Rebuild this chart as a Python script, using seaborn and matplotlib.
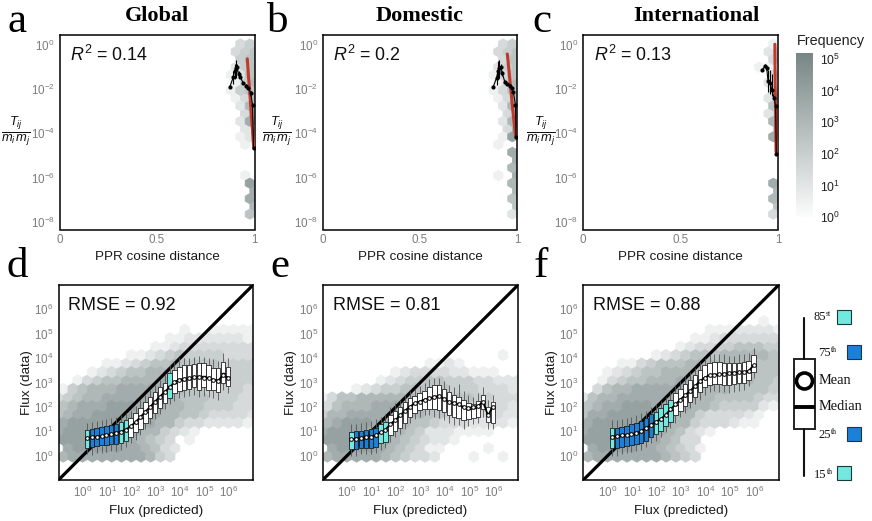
import numpy as np
import pandas as pd
import matplotlib
matplotlib.use("Agg")
import matplotlib.pyplot as plt
from matplotlib.colors import LinearSegmentedColormap, LogNorm
from matplotlib.cm import ScalarMappable
from matplotlib.patches import Rectangle, Circle
import seaborn as sns

# ---------- data (all flux / ratio values are log10) ----------
bin_centres = [0.17,0.37,0.57,0.77,0.97,1.17,1.37,1.57,1.77,1.97,2.17,2.37,2.57,2.77,2.97,
               3.17,3.37,3.57,3.77,3.97,4.17,4.37,4.57,4.77,4.97,5.17,5.37,5.57,5.77,5.97]

d_med = [.74,.76,.78,.80,.83,.87,.92,.96,1.05,1.17,1.35,1.55,1.78,1.98,2.2,2.4,2.6,2.85,3.0,3.1,3.12,3.15,3.2,3.25,3.25,3.2,3.1,3.05,3.4,3.22]
d_q25 = [.32,.36,.40,.42,.44,.46,.46,.50,.62,.78,.95,1.1,1.35,1.55,1.75,1.95,2.15,2.35,2.55,2.65,2.7,2.75,2.8,2.7,2.8,2.7,2.7,2.6,3.0,2.85]
d_q75 = [1.05,1.1,1.13,1.16,1.2,1.25,1.3,1.38,1.45,1.55,1.75,1.95,2.2,2.4,2.6,2.8,3.0,3.4,3.5,3.65,3.7,3.72,3.75,3.8,3.8,3.7,3.6,3.6,3.85,3.65]
d_w15 = [.05,.02,.1,.12,.15,.18,.2,.22,.35,.5,.65,.85,1.1,1.3,1.5,1.7,1.9,2.1,2.25,2.35,2.4,2.45,2.5,2.4,2.45,2.4,2.35,2.3,2.7,2.55]
d_w85 = [1.35,1.4,1.42,1.45,1.5,1.55,1.6,1.68,1.75,1.85,2.05,2.3,2.5,2.7,2.9,3.1,3.35,3.7,3.85,4.0,4.0,4.02,4.05,4.1,4.05,4.0,3.95,3.9,4.2,4.0]
d_mean = [.72,.75,.78,.8,.84,.88,.93,.98,1.07,1.2,1.38,1.58,1.8,2.0,2.22,2.42,2.62,2.8,3.02,3.12,3.15,3.18,3.22,3.22,3.2,3.2,3.12,3.08,3.3,3.2]
d_band = list("cbbbbbbccwwwwwwwwcwwwwwwwwwwww")

e_med = [.67,.68,.70,.72,.75,.80,.98,1.05,1.33,1.48,1.67,1.85,2.0,2.12,2.2,2.28,2.35,2.42,2.49,2.35,2.2,2.18,2.15,2.0,1.9,1.95,2.0,2.2,1.7,2.0]
e_q25 = [.27,.28,.30,.30,.32,.35,.50,.55,.85,1.0,1.15,1.35,1.6,1.75,1.87,1.9,1.9,1.9,1.87,1.8,1.67,1.6,1.55,1.45,1.5,1.55,1.6,1.9,1.4,1.33]
e_q75 = [.98,1.0,1.02,1.05,1.1,1.15,1.3,1.4,1.65,1.85,2.0,2.2,2.35,2.45,2.56,2.65,2.8,2.9,2.9,2.75,2.6,2.5,2.4,2.3,2.15,2.1,2.25,2.5,2.0,2.2]
e_w15 = [.0,.0,.05,.05,.08,.1,.22,.3,.55,.75,.9,1.1,1.35,1.5,1.6,1.65,1.65,1.6,1.55,1.45,1.35,1.25,1.25,1.1,1.2,1.3,1.35,1.6,1.1,1.1]
e_w85 = [1.3,1.3,1.35,1.38,1.42,1.5,1.6,1.7,2.0,2.15,2.3,2.5,2.65,2.75,2.85,3.0,3.15,3.2,3.2,3.05,2.9,2.8,2.95,2.65,2.5,2.4,2.55,2.8,2.3,2.5]
e_mean = [.67,.7,.72,.75,.78,.83,.95,1.05,1.3,1.45,1.65,1.85,2.0,2.15,2.22,2.3,2.35,2.42,2.45,2.32,2.2,2.15,2.1,2.0,1.95,2.0,2.05,2.2,1.65,2.0]
e_band = list("cbbbbbccwwwwwwwwwwwwwwwwwwwwww")

f_med = [.78,.80,.82,.84,.87,.92,1.0,1.1,1.26,1.35,1.46,1.65,1.87,2.08,2.28,2.45,2.62,2.82,3.03,3.18,3.3,3.33,3.35,3.37,3.38,3.42,3.45,3.45,3.45,3.72]
f_q25 = [.3,.32,.36,.38,.42,.46,.52,.62,.78,.9,1.0,1.2,1.4,1.65,1.85,2.05,2.2,2.4,2.6,2.8,2.9,2.95,2.95,2.9,2.9,2.95,3.0,3.0,3.1,3.45]
f_q75 = [1.12,1.15,1.18,1.22,1.28,1.32,1.42,1.55,1.7,1.8,1.95,2.1,2.3,2.55,2.75,2.95,3.1,3.3,3.5,3.7,3.8,3.85,3.85,3.82,3.8,3.8,3.82,3.85,3.9,4.13]
f_w15 = [.0,.0,.08,.1,.15,.2,.25,.35,.5,.6,.75,.95,1.15,1.35,1.6,1.75,1.95,2.1,2.3,2.5,2.6,2.65,2.6,2.6,2.55,2.6,2.65,2.7,2.85,3.2]
f_w85 = [1.45,1.45,1.5,1.55,1.6,1.65,1.75,1.85,2.0,2.1,2.25,2.4,2.6,2.85,3.05,3.25,3.45,3.6,3.85,4.0,4.15,4.15,4.15,4.15,4.1,4.1,4.15,4.15,4.2,4.4]
f_mean = [.78,.8,.83,.85,.88,.93,1.02,1.12,1.27,1.38,1.5,1.67,1.9,2.1,2.3,2.48,2.65,2.85,3.05,3.2,3.3,3.32,3.33,3.35,3.38,3.4,3.42,3.42,3.48,3.7]
f_band = list("cbbbbbbbbccccwwwwwwwwwwwwwwwww")

# Hexagon shading: one string per row, bottom row first,
# digit n = frequency 10**(n/2), '.' = empty cell.
hex_d = ["677777777643",
         ".788888776532",
         "888888776543.1",
         "788888877664321",
         "78888888776643322221",
         "567788887776655433332",
         "56777888777665544433",
         "345667777777655544433",
         "14566677777665544443",
         "..1345566667755555444",
         "...12345566665554444",
         ".....1123455655554444",
         ".......1123454444333",
         "..........11233333333",
         "...........112222221",
         ".............1..11111"]
hex_e = ["677777654332...1..1",
         ".788887654311....1",
         "88888876543221",
         "788887766542221111",
         "67888777655433322221",
         "466777777665544333322",
         "35666777665554444332",
         "135566666666555544333",
         "...12344555554443332",
         "......123445544433222",
         ".......12333322111",
         "...........1121",
         "..................1"]
hex_f = ["677777776543",
         ".788887765431",
         "888888776533",
         "78888887765321",
         "788888877664333211",
         "5778888877664333321",
         "56778887777665444421",
         "256677777777665555433",
         ".3566777777766655554",
         "..1345566677766666554",
         "..123455666666666555",
         "....11345556666666555",
         ".......12345556666654",
         "..........12334455544",
         "...........112333333",
         ".............11122221",
         "..................1"]
# top panels: rows from the top; the last column touches the right edge
hex_a = [".34.",".345",".45.",".245","125.",".146","145.",".136",".26.",
         "..37",".27.","..2.",".12.","..1.","....","....","....","..1.",
         "..8.","...7","..7.","...6","..5."]
hex_b = [".34.",".345",".35.",".245","135.",".146","135.",".136",".26.",
         "..37",".26.","..37",".18.",".1..","..7.","...7","..6.",".1.7","..6.","...6","..5.","...5","..2."]
hex_c = ["..1.","..23","..3.",".11.","..3.","..2.","..2.","..25","..5.",
         "..23","..6.","...5","..7.","....","....","....","....","....","..7.","...6","..6.","...5","..3."]

a_x = [.874,.891,.898,.903,.910,.918,.928,.942,.956,.968,.980,.990,.995]
a_y = [-1.885,-1.46,-1.16,-1.06,-.98,-1.31,-1.46,-1.73,-1.84,-1.96,-2.16,-2.71,-4.68]
a_lo = [-1.9,-1.75,-1.55,-1.5,-1.1,-1.4,-1.5,-1.78,-1.9,-2.0,-2.2,-2.75,-4.7]
a_hi = [-1.85,-1.2,-.85,-.7,-.85,-1.2,-1.4,-1.68,-1.78,-1.9,-2.1,-2.65,-4.6]
a_red_x = [.963,.969,.976,.985,.996]
a_red_y = [-.63,-1.4,-2.18,-3.3,-4.68]

b_x = [.878,.895,.902,.909,.916,.924,.938,.950,.964,.973,.981,.992,.995]
b_y = [-1.885,-1.48,-1.16,-1.06,-.98,-1.28,-1.69,-1.76,-1.84,-1.96,-2.14,-2.71,-4.18]
b_lo = [-1.9,-1.8,-1.55,-1.5,-1.15,-1.4,-1.75,-1.82,-1.9,-2.0,-2.2,-2.75,-4.2]
b_hi = [-1.85,-1.25,-.72,-.7,-.85,-1.2,-1.62,-1.7,-1.78,-1.9,-2.08,-2.65,-4.15]
b_red_x = [.950,.958,.968,.980,.993]
b_red_y = [-.41,-1.1,-2.0,-3.1,-4.15]

c_x = [.920,.933,.942,.949,.959,.969,.979,.988,.991]
c_y = [-1.13,-.95,-1.06,-1.63,-1.70,-2.04,-2.38,-2.76,-4.93]
c_lo = [-1.2,-1.0,-1.15,-2.15,-2.2,-2.3,-2.45,-2.8,-4.95]
c_hi = [-1.05,-.85,-.95,-1.15,-1.15,-1.3,-2.3,-2.7,-4.9]
c_red_x = [.984,.985,.986,.988,.990]
c_red_y = [.03,-1.0,-2.0,-3.3,-4.83]

top_titles = ["Global", "Domestic", "International"]
r2_labels = ["0.14", "0.2", "0.13"]
rmse_labels = ["0.92", "0.81", "0.88"]
top_x_ticks = [0, 0.5, 1]
top_x_labels = ["0", "0.5", "1"]
top_y_exps = [-8, -6, -4, -2, 0]
flux_exps = [0, 1, 2, 3, 4, 5, 6]
cbar_exps = [0, 1, 2, 3, 4, 5]

# ---------- style ----------
sns.set_theme(style="white")
plt.rcParams["font.family"] = ["Liberation Sans", "DejaVu Sans"]
plt.rcParams["mathtext.fontset"] = "custom"
plt.rcParams["mathtext.rm"] = "Liberation Sans"
plt.rcParams["mathtext.it"] = "Liberation Sans:italic"
plt.rcParams["mathtext.bf"] = "Liberation Sans:bold"
plt.rcParams["mathtext.default"] = "rm"

W, H = 872, 521
TICK = "#7d7d7d"
LABEL = "#1a1a1a"
CYAN = "#72e8de"
BLUE = "#1a80d8"
SERIF = ["Liberation Serif"]
cmap = LinearSegmentedColormap.from_list("freq", ["#fcfcfc", "#778685"])
norm = LogNorm(1, 10 ** 5.2)
palette = {"c": CYAN, "b": BLUE, "w": "white"}

fig = plt.figure(figsize=(W / 100, H / 100), dpi=100, facecolor="white")


def add_ax(x0, y0, x1, y1):
    return fig.add_axes([x0 / W, 1 - y1 / H, (x1 - x0) / W, (y1 - y0) / H])


def fig_text(x, y, s, **kw):
    kw.setdefault("ha", "center")
    kw.setdefault("va", "center")
    return fig.text(x / W, 1 - y / H, s, **kw)


def style_axes(ax):
    for s in ax.spines.values():
        s.set_visible(True)
        s.set_color("black")
        s.set_linewidth(1.1)
    ax.minorticks_off()
    ax.tick_params(which="both", length=0, labelsize=8.4, labelcolor=TICK, pad=3.5)


def hex_arrays(rows, full=True):
    xs, ys, vs = [], [], []
    for r, row in enumerate(rows):
        for k, ch in enumerate(row):
            if ch == ".":
                continue
            if full:
                x = 10.0 ** (-1.01 + 0.4 * k + (0.2 if r % 2 == 0 else 0.0))
                y = -0.04 + 0.347 * r
            else:
                x = 1.0 - 0.048 * (3 - k) if r % 2 else 0.976 - 0.048 * (2 - k)
                y = 0.045 - 0.35 * r
            xs.append(x); ys.append(y); vs.append(10 ** (int(ch) / 2))
    return np.array(xs), 10.0 ** np.array(ys), np.array(vs)


# ---------- top row ----------
top_boxes = [(59.5, 35, 254.5, 229.5), (323, 35, 517, 229.5), (583, 35, 778, 229.5)]
top_hex = [hex_a, hex_b, hex_c]
top_pts = [(a_x, a_y, a_lo, a_hi, a_red_x, a_red_y),
           (b_x, b_y, b_lo, b_hi, b_red_x, b_red_y),
           (c_x, c_y, c_lo, c_hi, c_red_x, c_red_y)]
frac_x = [15.5, 277, 541]
title_x = [157, 420, 696]
letter_top_x = [17, 278, 542]
r2_x = [70, 333, 594]

for i, box in enumerate(top_boxes):
    ax = add_ax(*box)
    xs, ys, vs = hex_arrays(top_hex[i], full=False)
    ax.hexbin(xs, ys, C=vs, reduce_C_function=np.max, gridsize=(20, 12), yscale="log",
              extent=(0.04, 1.0, -8.005, 0.395), cmap=cmap, norm=norm,
              linewidths=0.5, edgecolors="face", zorder=1)
    px, py, plo, phi, rx, ry = top_pts[i]
    sns.lineplot(x=rx, y=10.0 ** np.array(ry), color="#c0392b", lw=2.2, ax=ax, zorder=3, sort=False, errorbar=None)
    ax.vlines(px, 10.0 ** np.array(plo), 10.0 ** np.array(phi), color="black", lw=0.8, zorder=4)
    sns.lineplot(x=px, y=10.0 ** np.array(py), color="black", lw=0.8, ax=ax, zorder=4, sort=False, errorbar=None)
    sns.scatterplot(x=px, y=10.0 ** np.array(py), color="black", s=9, linewidth=0, ax=ax, zorder=5)
    ax.set_xlim(0, 1)
    ax.set_yscale("log")
    ax.set_ylim(10 ** -8.35, 10 ** 0.45)
    ax.set_xticks(top_x_ticks, top_x_labels)
    ax.set_yticks([10.0 ** e for e in top_y_exps], [f"$10^{{{e}}}$" for e in top_y_exps])
    style_axes(ax)
    ax.set_xlabel("PPR cosine distance", fontsize=9.7, color=LABEL, labelpad=3.5)
    ax.set_ylabel("")
    fig_text(r2_x[i], 55, rf"$\mathit{{R}}^2$ = {r2_labels[i]}", ha="left", fontsize=12.9, color="#111111")
    fig_text(frac_x[i], 132, r"$\frac{\mathit{T_{ij}}}{\mathit{m_i\,m_j}}$", fontsize=13.2, color="#111111")
    fig_text(title_x[i], 16, top_titles[i], fontsize=16, fontweight="bold", family=SERIF, color="black")
    fig_text(letter_top_x[i], 32, "abc"[i], fontsize=31, family=SERIF, color="black", va="baseline")

# ---------- bottom row ----------
bottom_boxes = [(58.5, 285, 253, 480), (322.7, 285, 518, 480), (583.3, 285, 778.7, 480)]
series = [(d_w15, d_q25, d_med, d_q75, d_w85, d_mean, d_band, hex_d),
          (e_w15, e_q25, e_med, e_q75, e_w85, e_mean, e_band, hex_e),
          (f_w15, f_q25, f_med, f_q75, f_w85, f_mean, f_band, hex_f)]
ylab_x = [27, 291, 552]
letter_bot_x = [17, 280, 541]
rmse_x = [68, 333, 593]
centres = 10.0 ** np.array(bin_centres)

for i, box in enumerate(bottom_boxes):
    w15, q25, med, q75, w85, mean, band, rows = series[i]
    ax = add_ax(*box)
    xs, ys, vs = hex_arrays(rows, full=True)
    ax.hexbin(xs, ys, C=vs, reduce_C_function=np.max, gridsize=(20, 12), xscale="log", yscale="log",
              extent=(-1.01, 6.99, -0.387, 7.94), cmap=cmap, norm=norm,
              linewidths=0.5, edgecolors="face", zorder=1)
    lims = [10.0 ** -1, 10.0 ** 7]
    sns.lineplot(x=lims, y=lims, color="black", lw=2.3, ax=ax, zorder=2, errorbar=None)
    frame = pd.DataFrame({
        "x": np.tile(centres, 5),
        "y": 10.0 ** np.concatenate([w15, q25, med, q75, w85]),
        "band": band * 5,
    })
    sns.boxplot(data=frame, x="x", y="y", hue="band", palette=palette, native_scale=True,
                log_scale=True, width=0.92, whis=(0, 100), saturation=1, linewidth=0.55,
                linecolor="#111111", showcaps=False, fliersize=0, legend=False, ax=ax, zorder=3,
                whiskerprops={"color": "#555555", "linewidth": 0.6},
                medianprops={"color": "black", "linewidth": 1.0})
    sns.lineplot(x=centres, y=10.0 ** np.array(mean), color="black", lw=1.3, ax=ax, zorder=6, errorbar=None)
    sns.scatterplot(x=centres, y=10.0 ** np.array(mean), facecolor="white", edgecolor="black",
                    s=7, linewidth=0.7, ax=ax, zorder=7)
    ax.set_xlim(*lims)
    ax.set_ylim(*lims)
    ticks = [10.0 ** e for e in flux_exps]
    labels = [f"$10^{{{e}}}$" for e in flux_exps]
    ax.set_xticks(ticks, labels)
    ax.set_yticks(ticks, labels)
    style_axes(ax)
    ax.set_xlabel("Flux (predicted)", fontsize=9.7, color=LABEL, labelpad=3.5)
    ax.set_ylabel("")
    fig_text(ylab_x[i], 383, "Flux (data)", rotation=90, fontsize=9.7, color=LABEL)
    fig_text(rmse_x[i], 306, f"RMSE = {rmse_labels[i]}", ha="left", fontsize=13, color="#111111")
    fig_text(letter_bot_x[i], 277, "def"[i], fontsize=31, family=SERIF, color="black", va="baseline")

# ---------- frequency colour bar ----------
cax = add_ax(796, 53, 812.7, 217)
cb = fig.colorbar(ScalarMappable(norm=norm, cmap=cmap), cax=cax)
cb.outline.set_visible(False)
cb.set_ticks([10.0 ** e for e in cbar_exps], labels=[f"$10^{{{e}}}$" for e in cbar_exps])
cb.minorticks_off()
cax.tick_params(which="both", left=True, right=True, direction="in", length=4, width=0.7,
                color="white", labelsize=8.8, labelcolor="#222222", pad=5)
fig_text(797, 41, "Frequency", ha="left", fontsize=10.4, color="#222222")

# ---------- box key ----------
key = fig.add_axes([0, 0, 1, 1], facecolor="none")
key.set_xlim(0, W)
key.set_ylim(H, 0)
key.axis("off")
key.plot([804, 804], [318, 359], color="#111111", lw=1.5)
key.plot([804, 804], [429, 476], color="#111111", lw=1.5)
key.add_patch(Rectangle((794, 359), 21, 70, facecolor="white", edgecolor="#222222", lw=1.4))
key.add_patch(Circle((804.5, 381), 8, facecolor="white", edgecolor="black", lw=2.6))
key.plot([794, 815], [407, 407], color="black", lw=2.8, solid_capstyle="butt")
for x, y, s, sup in [(813, 317, "85", "st"), (818, 353, "75", "th"), (818, 435, "25", "th"), (814, 475, "15", "th")]:
    key.text(x, y, s, ha="left", va="center", fontsize=9, family=SERIF, color="#111111")
    key.text(x + 13, y - 3.5, sup, ha="left", va="center", fontsize=5.5, family=SERIF, color="#111111")
key.text(819, 381, "Mean", ha="left", va="center", fontsize=10.4, family=SERIF, color="#111111")
key.text(819, 407, "Median", ha="left", va="center", fontsize=10.4, family=SERIF, color="#111111")
for x, y, col in [(837, 310, CYAN), (847, 345, BLUE), (847, 427, BLUE), (837, 466, CYAN)]:
    key.add_patch(Rectangle((x, y), 14, 14, facecolor=col, edgecolor="#1a3a3a", lw=0.8))

fig.savefig("out.png", dpi=100, facecolor="white")
